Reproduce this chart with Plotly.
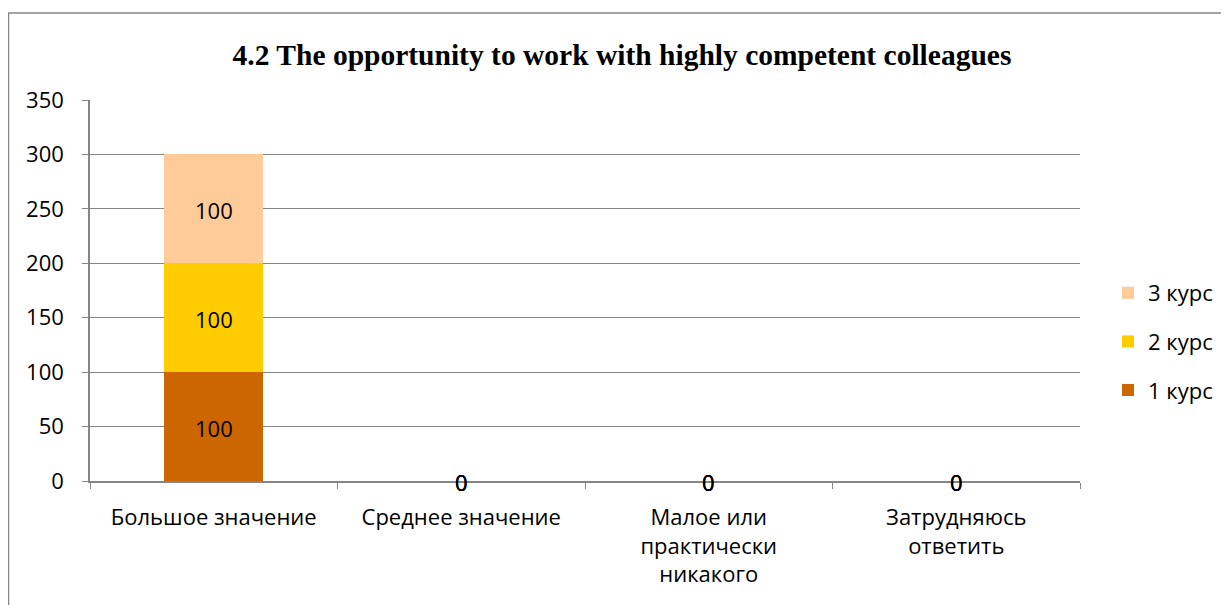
import plotly.graph_objects as go

categories = ["Большое значение", "Среднее значение", "Малое или<br>практически<br>никакого", "Затрудняюсь<br>ответить"]
series_names = ["1 курс", "2 курс", "3 курс"]
course1 = [100, 0, 0, 0]
course2 = [100, 0, 0, 0]
course3 = [100, 0, 0, 0]
colors = ["#CC6600", "#FFCC00", "#FFCC99"]
title = "4.2 The opportunity to work with highly competent colleagues"

W, H = 1229, 605
L, R, T, B = 82, 157, 92, 132
FONT = "Open Sans"
FS = 22

fig = go.Figure()
all_series = [course1, course2, course3]
n = len(all_series)
for i, (name, vals, col) in enumerate(zip(series_names, all_series, colors)):
    fig.add_trace(go.Bar(x=categories, y=vals, name=name, marker=dict(color=col, line=dict(width=0)),
                         legendgroup=name, legendrank=n - i, width=0.4))

# value labels
base = [0] * len(categories)
for vals in all_series:
    for cat, b, v in zip(categories, base, vals):
        fig.add_annotation(x=cat, y=b + v / 2, text=str(v), showarrow=False, yshift=-1,
                           font=dict(family=FONT, size=FS, color="#000000"))
    base = [b + v for b, v in zip(base, vals)]

pw = W - L - R
ph = H - T - B
def px_x(x):
    return (x - L) / pw
def px_y(y):
    return (H - B - y) / ph

fig.add_shape(type="rect", xref="paper", yref="paper",
              x0=px_x(0.5), x1=px_x(1214), y0=px_y(640), y1=px_y(5),
              line=dict(color="#868686", width=1.5), fillcolor="rgba(0,0,0,0)", layer="below")

fig.update_layout(
    width=W, height=H,
    margin=dict(l=L, r=R, t=T, b=B, autoexpand=False),
    paper_bgcolor="white", plot_bgcolor="white",
    barmode="stack",
    title=dict(text=title, x=px_x(614), xanchor="center", xref="paper", y=1 - 47 / H, yanchor="middle",
               font=dict(family="Liberation Serif", size=29.5, color="#000000", weight="bold")),
    font=dict(family=FONT, size=FS, color="#000000"),
    legend=dict(x=px_x(1100), y=px_y(264), xanchor="left", yanchor="top",
                traceorder="grouped", tracegroupgap=17,
                font=dict(family=FONT, size=FS), itemwidth=30),
    showlegend=True,
)
fig.update_xaxes(type="category", showline=True, linecolor="#868686", linewidth=1.5,
                 ticks="outside", tickson="boundaries", ticklen=6, tickcolor="#868686",
                 showgrid=False, tickfont=dict(family=FONT, size=FS), ticklabelstandoff=16)
fig.update_yaxes(range=[0, 350], dtick=50, showline=True, linecolor="#868686", linewidth=1.5,
                 ticks="outside", ticklen=6, tickcolor="#868686",
                 gridcolor="#868686", gridwidth=1.2, zeroline=False,
                 tickfont=dict(family=FONT, size=FS), ticklabelstandoff=14)

fig.write_html("out.html")
